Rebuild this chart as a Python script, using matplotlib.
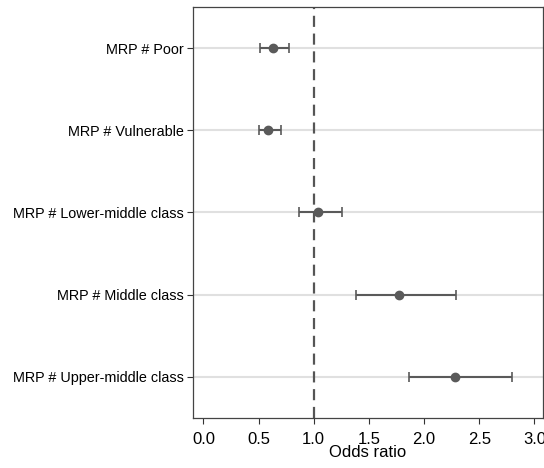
import matplotlib
matplotlib.use("Agg")
import matplotlib.pyplot as plt
import numpy as np

# coefficients (odds ratios with 95% CI)
labels = ["MRP # Poor", "MRP # Vulnerable", "MRP # Lower-middle class",
          "MRP # Middle class", "MRP # Upper-middle class"]
odds = [0.63, 0.59, 1.04, 1.77, 2.28]
ci_low = [0.51, 0.50, 0.87, 1.38, 1.86]
ci_high = [0.78, 0.70, 1.26, 2.29, 2.80]
xticks = [0.0, 0.5, 1.0, 1.5, 2.0, 2.5, 3.0]

plt.rcParams["font.family"] = ["Liberation Sans", "DejaVu Sans"]

fig = plt.figure(figsize=(5.44, 4.68), dpi=100)
ax = fig.add_axes([0.355, 0.107, 0.643, 0.878])

pos = np.arange(1, len(labels) + 1)
odds = np.array(odds)
err = [odds - np.array(ci_low), np.array(ci_high) - odds]

for y in pos:
    ax.axhline(y, color="#e0e0e0", lw=1.5, zorder=0)
ax.axvline(1.0, color="#555555", lw=1.6, ls=(0, (5, 3)), zorder=1)

ax.errorbar(odds, pos, xerr=err, fmt="o", color="#5a5a5a", ms=6,
            ecolor="#5a5a5a", elinewidth=1.5, capsize=3.5, capthick=1.2, zorder=3)

ax.set_ylim(5.5, 0.5)
ax.set_xlim(-0.093, 3.077)
ax.set_yticks(pos)
ax.set_yticklabels(labels, fontsize=10.4)
ax.set_xticks(xticks)
ax.set_xticklabels([f"{t:.1f}" for t in xticks], fontsize=12)
ax.set_xlabel("Odds ratio", fontsize=12, labelpad=-1)
ax.tick_params(axis="both", color="#333333", length=4, width=0.8, pad=3)
ax.tick_params(axis="x", pad=6)
for s in ax.spines.values():
    s.set_color("#444444")
    s.set_linewidth(0.9)

fig.savefig("out.png", dpi=100)
